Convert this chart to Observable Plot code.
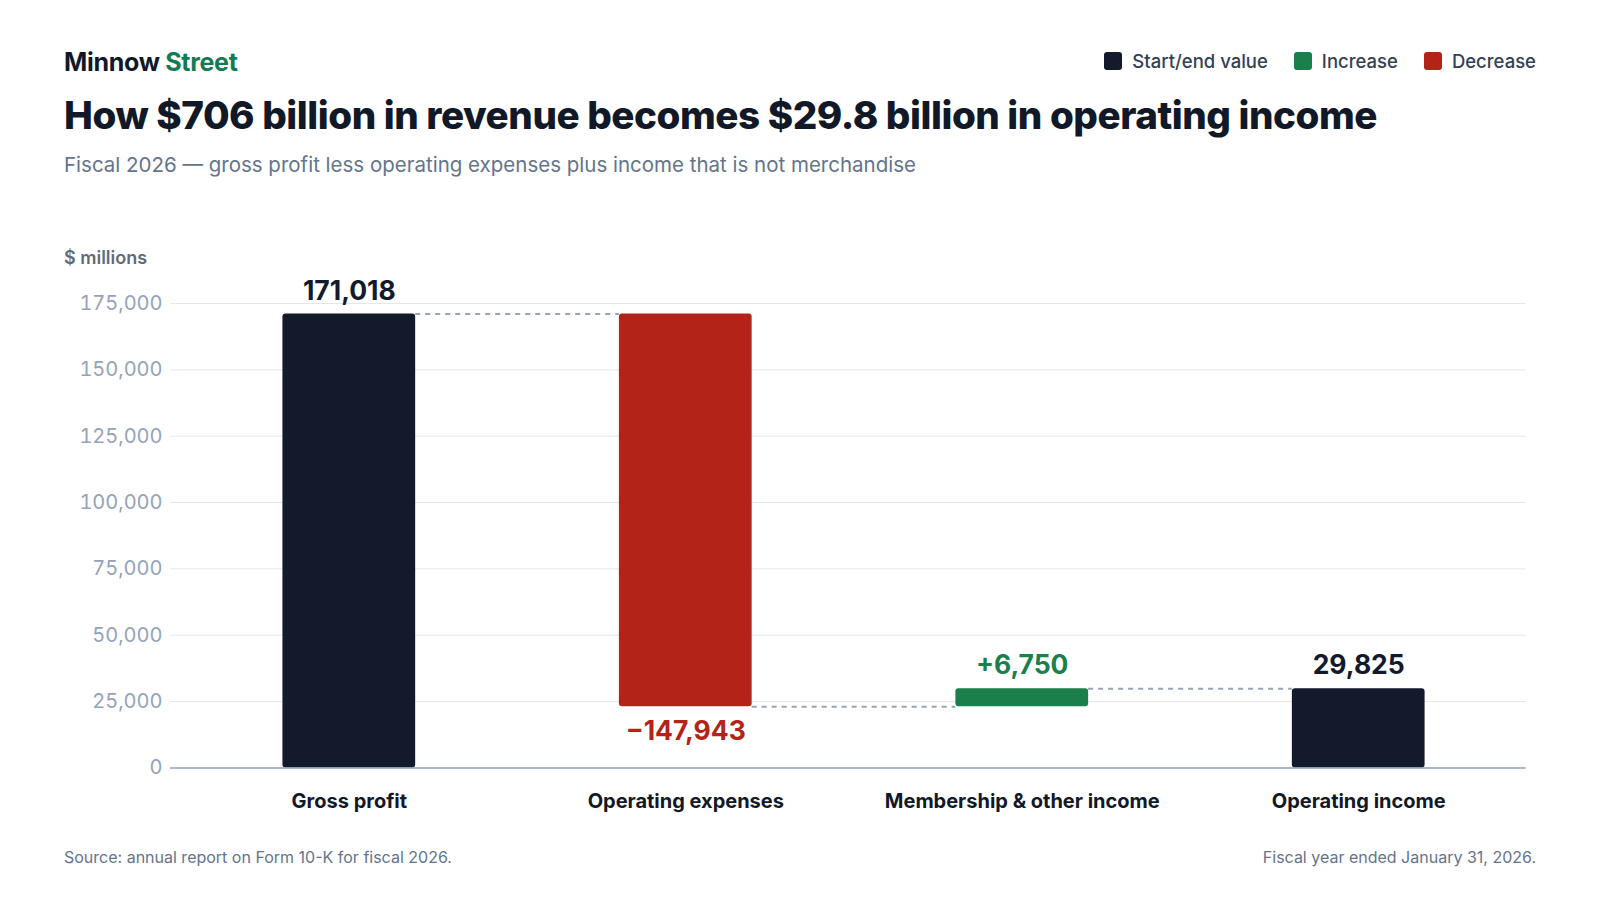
<!DOCTYPE html>
<html>
<head>
<meta charset="utf-8">
<script src="https://cdn.jsdelivr.net/npm/d3@7"></script>
<script src="https://cdn.jsdelivr.net/npm/@observablehq/plot@0.6"></script>
<style>
  html, body { margin: 0; padding: 0; background: #ffffff; }
  body { width: 1600px; height: 900px; position: relative; font-family: Inter, "Noto Sans", sans-serif; overflow: hidden; }
  .abs { position: absolute; white-space: nowrap; }
  #brand { left: 64px; top: 46px; line-height: 32px; font-size: 25px; font-weight: 700; color: #111827; letter-spacing: -0.3px; }
  #brand span { color: #137a55; }
  #title { left: 64px; top: 91px; line-height: 48px; font-size: 38.6px; font-weight: 800; color: #111827; letter-spacing: -0.45px; }
  #subtitle { left: 64px; top: 151px; line-height: 28px; font-size: 20.5px; font-weight: 400; color: #64748b; }
  #legend { right: 64px; top: 49px; line-height: 24px; display: flex; gap: 26px; font-size: 18.5px; font-weight: 500; color: #334155; }
  #legend .item { display: flex; align-items: center; gap: 10px; }
  #legend .sw { width: 18px; height: 18px; border-radius: 3px; display: inline-block; }
  #unit { left: 64px; top: 246px; line-height: 24px; font-size: 18px; font-weight: 600; color: #5f6b7a; }
  #chart { left: 64px; top: 275px; }
  #source { left: 64px; top: 846px; line-height: 22px; font-size: 16px; color: #64748b; }
  #note { right: 64px; top: 846px; line-height: 22px; font-size: 16px; color: #64748b; }
</style>
</head>
<body>
<div id="brand" class="abs">Minnow <span>Street</span></div>
<div id="legend" class="abs"></div>
<div id="title" class="abs">How $706 billion in revenue becomes $29.8 billion in operating income</div>
<div id="subtitle" class="abs">Fiscal 2026 — gross profit less operating expenses plus income that is not merchandise</div>
<div id="unit" class="abs">$ millions</div>
<div id="chart" class="abs"></div>
<div id="source" class="abs">Source: annual report on Form 10-K for fiscal 2026.</div>
<div id="note" class="abs">Fiscal year ended January 31, 2026.</div>
<script>
// ---- data ----
const categories = ["Gross profit", "Operating expenses", "Membership & other income", "Operating income"];
const values = [171018, -147943, 6750, 29825];
const kinds = ["total", "decrease", "increase", "total"];
const yTicks = [0, 25000, 50000, 75000, 100000, 125000, 150000, 175000];
const legendLabels = ["Start/end value", "Increase", "Decrease"];
const legendKinds = ["total", "increase", "decrease"];

const colors = {total: "#121a2b", increase: "#1b7f4c", decrease: "#b42318"};

// ---- derived table ----
let level = 0;
const rows = categories.map((c, i) => {
  const v = values[i], k = kinds[i];
  let y1, y2;
  if (k === "total") { y1 = 0; y2 = v; level = v; }
  else { y1 = level; y2 = level + v; level = level + v; }
  const fmt = d3.format(",")(Math.abs(v));
  const label = k === "increase" ? "+" + fmt : k === "decrease" ? "\u2212" + fmt : fmt;
  return {category: c, kind: k, y1, y2, end: level, label,
          labelY: k === "decrease" ? Math.min(y1, y2) : Math.max(y1, y2)};
});
const connectors = rows.slice(0, -1).map((r, i) => ({x1: r.category, x2: rows[i + 1].category, y: r.end}));

// ---- legend ----
const lg = document.getElementById("legend");
legendLabels.forEach((t, i) => {
  const it = document.createElement("div");
  it.className = "item";
  it.innerHTML = `<span class="sw" style="background:${colors[legendKinds[i]]}"></span><span>${t}</span>`;
  lg.appendChild(it);
});

// ---- layout ----
const W = 1472, mL = 106, mR = 10.5, mT = 28, mB = 65, plotH = 464.4;
const H = mT + plotH + mB;
const pInner = 0.6055, pOuter = 0.317, align = 0.527;
const R = W - mL - mR;
const step = R / (categories.length - pInner + 2 * pOuter);
const bw = step * (1 - pInner);

const chart = Plot.plot({
  width: W, height: H,
  marginLeft: mL, marginRight: mR, marginTop: mT, marginBottom: mB,
  style: {fontFamily: "Inter, 'Noto Sans', sans-serif", background: "transparent"},
  x: {domain: categories, paddingInner: pInner, paddingOuter: pOuter, align, round: false, label: null},
  y: {domain: [0, 175000], label: null},
  marks: [
    Plot.gridY(yTicks, {stroke: "#e5e7eb", strokeOpacity: 1, strokeWidth: 1}),
    Plot.axisY(yTicks, {tickSize: 0, tickPadding: 8, fontSize: 20, fill: "#94a3b8", tickFormat: d3.format(","), label: null}),
    Plot.axisX({tickSize: 0, tickPadding: 25.5, fontSize: 20, fontWeight: 700, fill: "#111827", label: null}),
    Plot.ruleY(connectors, {x1: "x1", x2: "x2", y: "y", insetLeft: bw, insetRight: bw,
      stroke: "#9aa3b5", strokeWidth: 2, strokeDasharray: "5,5"}),
    Plot.barY(rows, {x: "category", y1: "y1", y2: "y2", fill: d => colors[d.kind], rx: 3}),
    Plot.ruleY([0], {stroke: "#94a3b8", strokeWidth: 1.5}),
    Plot.text(rows.filter(d => d.kind !== "decrease"), {x: "category", y: "labelY", text: "label", dy: -23,
      fontSize: 26.5, fontWeight: 700, fill: d => d.kind === "increase" ? colors.increase : colors.total}),
    Plot.text(rows.filter(d => d.kind === "decrease"), {x: "category", y: "labelY", text: "label", dy: 25,
      fontSize: 26.5, fontWeight: 700, fill: colors.decrease})
  ]
});
document.getElementById("chart").appendChild(chart);
</script>
</body>
</html>
